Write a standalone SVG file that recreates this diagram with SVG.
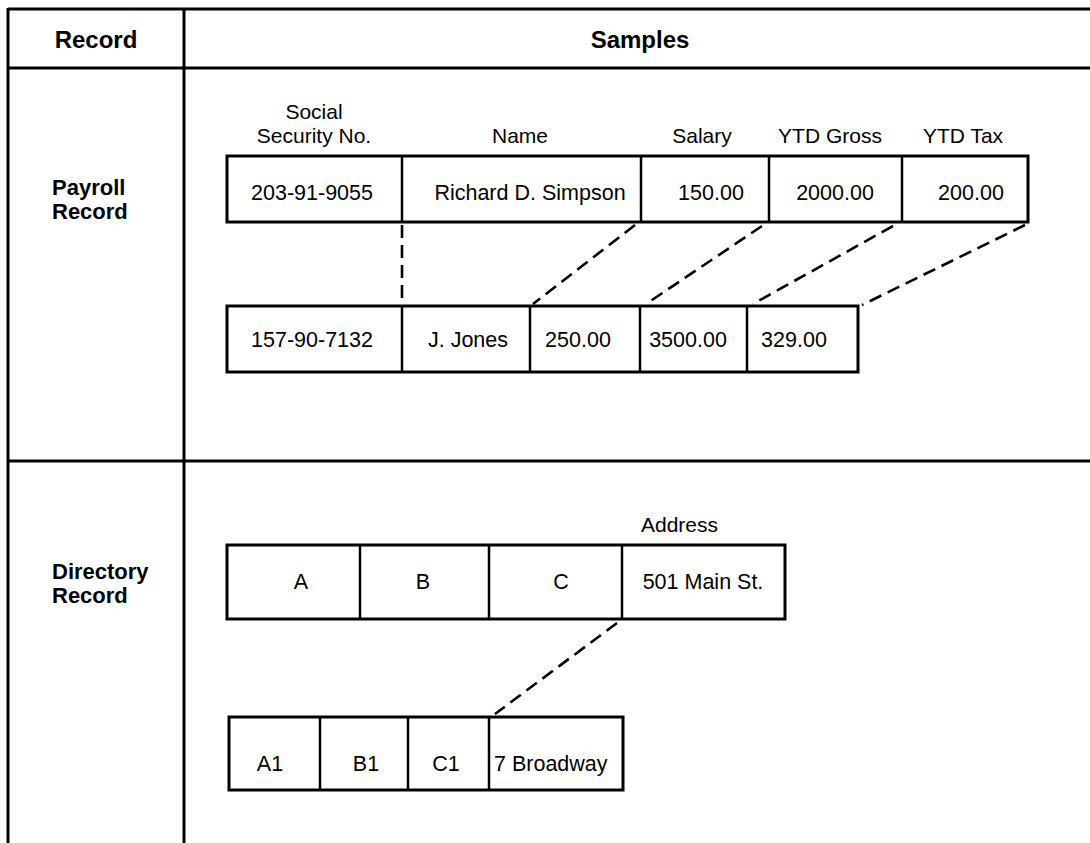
<svg xmlns="http://www.w3.org/2000/svg" width="1090" height="843" viewBox="0 0 1090 843">
  <style>
    .grid { stroke: #000; stroke-width: 3; fill: none; }
    .cell { stroke: #000; stroke-width: 3; fill: #fff; }
    .div { stroke: #000; stroke-width: 2.5; }
    .dash { stroke: #000; stroke-width: 2.6; stroke-dasharray: 13 7; fill: none; }
    .hdr { font-family: "Liberation Sans", Arial, sans-serif; font-size: 24px; font-weight: bold; fill: #000; }
    .row { font-family: "Liberation Sans", Arial, sans-serif; font-size: 22px; font-weight: bold; fill: #000; }
    .lbl { font-family: "Liberation Sans", Arial, sans-serif; font-size: 21px; fill: #000; }
    .val { font-family: "Liberation Sans", Arial, sans-serif; font-size: 21.5px; fill: #000; }
  </style>

  <rect width="1090" height="843" fill="#fff"/>

  <!-- table frame -->
  <g id="table">
    <line class="grid" x1="8" y1="9" x2="1090" y2="9"/>
    <line class="grid" x1="8" y1="68" x2="1090" y2="68"/>
    <line class="grid" x1="8" y1="461" x2="1090" y2="461"/>
    <line class="grid" x1="8" y1="8" x2="8" y2="843"/>
    <line class="grid" x1="184" y1="8" x2="184" y2="843"/>
    <text class="hdr" x="96" y="48" text-anchor="middle">Record</text>
    <text class="hdr" x="640" y="48" text-anchor="middle">Samples</text>
  </g>

  <!-- row labels -->
  <g id="payroll-label">
    <text class="row" x="52" y="195">Payroll</text>
    <text class="row" x="52" y="219">Record</text>
  </g>
  <g id="directory-label">
    <text class="row" x="52" y="579">Directory</text>
    <text class="row" x="52" y="603">Record</text>
  </g>

  <!-- payroll field headings -->
  <g id="payroll-fields">
    <text class="lbl" x="314" y="119" text-anchor="middle">Social</text>
    <text class="lbl" x="314" y="143" text-anchor="middle">Security No.</text>
    <text class="lbl" x="520" y="143" text-anchor="middle">Name</text>
    <text class="lbl" x="702" y="143" text-anchor="middle">Salary</text>
    <text class="lbl" x="830" y="143" text-anchor="middle">YTD Gross</text>
    <text class="lbl" x="963" y="143" text-anchor="middle">YTD Tax</text>
  </g>

  <!-- payroll record 1 -->
  <g id="payroll-1">
    <rect class="cell" x="227" y="156" width="801" height="66"/>
    <line class="div" x1="402" y1="156" x2="402" y2="222"/>
    <line class="div" x1="641" y1="156" x2="641" y2="222"/>
    <line class="div" x1="769" y1="156" x2="769" y2="222"/>
    <line class="div" x1="902" y1="156" x2="902" y2="222"/>
    <text class="val" x="312" y="200" text-anchor="middle">203-91-9055</text>
    <text class="val" x="530" y="200" text-anchor="middle">Richard D. Simpson</text>
    <text class="val" x="711" y="200" text-anchor="middle">150.00</text>
    <text class="val" x="835" y="200" text-anchor="middle">2000.00</text>
    <text class="val" x="971" y="200" text-anchor="middle">200.00</text>
  </g>

  <!-- payroll record 2 -->
  <g id="payroll-2">
    <rect class="cell" x="227" y="306" width="631" height="66"/>
    <line class="div" x1="402" y1="306" x2="402" y2="372"/>
    <line class="div" x1="530" y1="306" x2="530" y2="372"/>
    <line class="div" x1="640" y1="306" x2="640" y2="372"/>
    <line class="div" x1="747" y1="306" x2="747" y2="372"/>
    <text class="val" x="312" y="347" text-anchor="middle">157-90-7132</text>
    <text class="val" x="468" y="347" text-anchor="middle">J. Jones</text>
    <text class="val" x="578" y="347" text-anchor="middle">250.00</text>
    <text class="val" x="688" y="347" text-anchor="middle">3500.00</text>
    <text class="val" x="794" y="347" text-anchor="middle">329.00</text>
  </g>

  <!-- directory field heading -->
  <g id="directory-fields">
    <text class="lbl" x="641" y="532">Address</text>
  </g>

  <!-- directory record 1 -->
  <g id="directory-1">
    <rect class="cell" x="227" y="545" width="558" height="74"/>
    <line class="div" x1="360" y1="545" x2="360" y2="619"/>
    <line class="div" x1="489" y1="545" x2="489" y2="619"/>
    <line class="div" x1="622" y1="545" x2="622" y2="619"/>
    <text class="val" x="301" y="589" text-anchor="middle">A</text>
    <text class="val" x="423" y="589" text-anchor="middle">B</text>
    <text class="val" x="561" y="589" text-anchor="middle">C</text>
    <text class="val" x="703" y="589" text-anchor="middle">501 Main St.</text>
  </g>

  <!-- directory record 2 -->
  <g id="directory-2">
    <rect class="cell" x="229" y="717" width="394" height="73"/>
    <line class="div" x1="320" y1="717" x2="320" y2="790"/>
    <line class="div" x1="408" y1="717" x2="408" y2="790"/>
    <line class="div" x1="489" y1="717" x2="489" y2="790"/>
    <text class="val" x="270" y="771" text-anchor="middle">A1</text>
    <text class="val" x="366" y="771" text-anchor="middle">B1</text>
    <text class="val" x="446" y="771" text-anchor="middle">C1</text>
    <text class="val" x="494" y="771">7 Broadway</text>
  </g>

  <!-- dashed connectors between field boundaries -->
  <g id="connectors">
    <line class="dash" x1="402" y1="225" x2="402" y2="304"/>
    <line class="dash" x1="635" y1="225" x2="533" y2="304"/>
    <line class="dash" x1="762" y1="226" x2="646" y2="304"/>
    <line class="dash" x1="893" y1="226" x2="753" y2="304"/>
    <line class="dash" x1="1025" y1="225" x2="862" y2="305"/>
    <line class="dash" x1="617" y1="623" x2="495" y2="714"/>
  </g>
</svg>
